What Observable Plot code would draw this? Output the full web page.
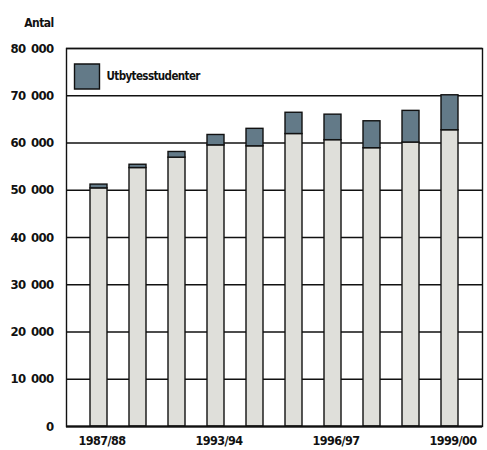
<!DOCTYPE html>
<html>
<head>
<meta charset="utf-8">
<script src="https://cdn.jsdelivr.net/npm/d3@7"></script>
<script src="https://cdn.jsdelivr.net/npm/@observablehq/plot@0.6"></script>
<style>
  html, body { margin: 0; padding: 0; background: #fff; }
  #chart svg { display: block; }
  #chart svg text { letter-spacing: -0.6px; }
</style>
</head>
<body>
<div id="chart"></div>
<script>
const categories = ["1987/88","1989/90","1991/92","1993/94","1994/95","1995/96","1996/97","1997/98","1998/99","1999/00"];
const baseValues = [50400, 54700, 56900, 59500, 59300, 61900, 60600, 58900, 60100, 62700];
const exchangeValues = [800, 700, 1200, 2200, 3700, 4500, 5400, 5700, 6700, 7400];
const shownLabels = ["1987/88","1993/94","1996/97","1999/00"];
const yTicks = [0,10000,20000,30000,40000,50000,60000,70000,80000];
const legendLabel = "Utbytesstudenter";
const yTitle = "Antal";

const rows = categories.flatMap((c, i) => [
  {cat: c, part: "base", value: baseValues[i]},
  {cat: c, part: "exchange", value: exchangeValues[i]}
]);

const fmt = d => d3.format(",")(d).replace(/,/g, "\u2002");
const font = "'DejaVu Sans Condensed', 'Liberation Sans Narrow', sans-serif";

const chart = Plot.plot({
  width: 487,
  height: 450,
  marginLeft: 66,
  marginRight: 5,
  marginTop: 48,
  marginBottom: 24,
  style: {fontFamily: font, fontSize: "12px", fontWeight: "bold", fontStretch: "condensed", color: "#111", background: "#fff"},
  x: {domain: categories, padding: 0.555, align: 0.5},
  y: {domain: [0, 80000]},
  color: {domain: ["base", "exchange"], range: ["#dfdfda", "#637a88"]},
  marks: [
    Plot.ruleY(yTicks, {stroke: "#111", strokeWidth: 1.4}),
    Plot.barY(rows, Plot.stackY({x: "cat", y: "value", fill: "part", stroke: "#111", strokeWidth: 1.4, order: ["base", "exchange"]})),
    Plot.frame({stroke: "#111", strokeWidth: 1.4}),
    Plot.ruleY([0], {stroke: "#111", strokeWidth: 2}),
    Plot.axisY(yTicks, {tickSize: 0, tickPadding: 13, tickFormat: fmt, label: null, fontSize: 13}),
    Plot.axisX(shownLabels, {tickSize: 0, tickPadding: 10, label: null, dx: 3, fontSize: 12.5}),
    Plot.text([yTitle], {frameAnchor: "top-left", dx: -13, dy: -25, textAnchor: "end", lineAnchor: "middle", fontSize: 12}),
    Plot.dot([legendLabel], {frameAnchor: "top-left", dx: 20.5, dy: 28, symbol: "square", r: 14.1, fill: "#637a88", stroke: "#111", strokeWidth: 1.4}),
    Plot.text([legendLabel], {frameAnchor: "top-left", dx: 40, dy: 28, textAnchor: "start", lineAnchor: "middle", fontSize: 11.5})
  ]
});
document.getElementById("chart").append(chart);
</script>
</body>
</html>
